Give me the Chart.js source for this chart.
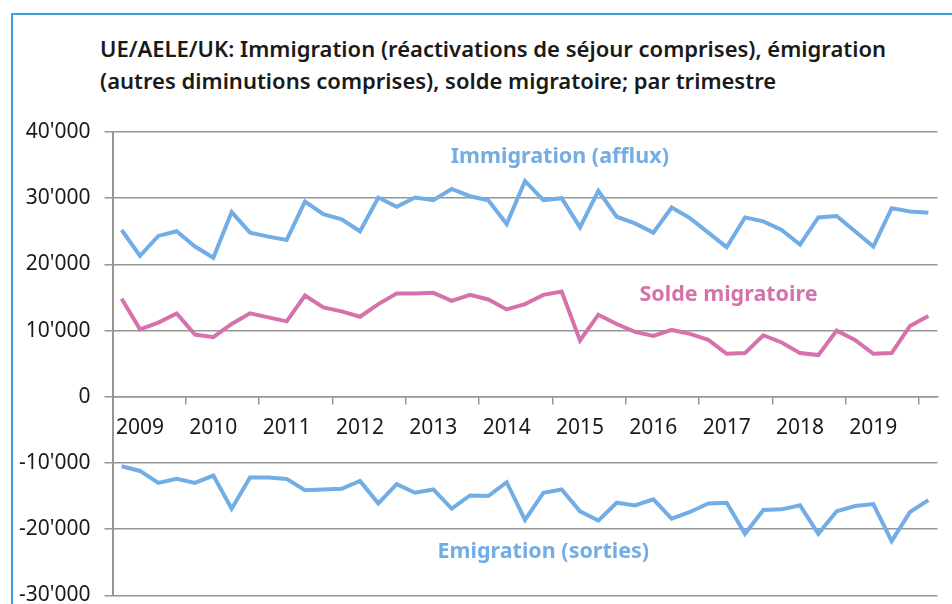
<!DOCTYPE html>
<html lang="fr">
<head>
<meta charset="utf-8">
<title>UE/AELE/UK : migration par trimestre</title>
<script src="https://cdn.jsdelivr.net/npm/chart.js@4.4.1/dist/chart.umd.min.js"></script>
<style>
  html, body { margin: 0; padding: 0; background: #fff; }
  body { width: 952px; height: 604px; position: relative; overflow: hidden; font-family: 'Noto Sans', sans-serif; }
  /* cadre bleu, coupé à droite et en bas comme sur l'original */
  .frame { position: absolute; left: 11px; top: 13px; width: 980px; height: 640px;
           border-left: 2px solid #3f9de2; border-top: 2px solid #3f9de2; }
  .chart-title { position: absolute; left: 100px; top: 32px; margin: 0;
                 font-size: 22px; font-weight: 600; line-height: 32px; color: #1a1a1a; white-space: nowrap; }
  .chart-wrap { position: absolute; left: 0; top: 0; width: 952px; height: 604px; }
</style>
</head>
<body>
<div class="frame"></div>
<h1 class="chart-title">UE/AELE/UK: Immigration (réactivations de séjour comprises), émigration<br>(autres diminutions comprises), solde migratoire; par trimestre</h1>
<div class="chart-wrap"><canvas id="migrationChart"></canvas></div>

<script>
// Trimestres 2009 T1 – 2020 T1
const years = ['2009', '2010', '2011', '2012', '2013', '2014', '2015', '2016', '2017', '2018', '2019', '2020'];
const quarters = [];
years.forEach(y => ['T1', 'T2', 'T3', 'T4'].forEach(q => quarters.push(y + ' ' + q)));
quarters.length = 45;

// libellés d'années affichés sous l'axe
const yearLabels = ['2009', '2010', '2011', '2012', '2013', '2014', '2015', '2016', '2017', '2018', '2019'];

// Immigration (afflux)
const immigration = [
  25200, 21300, 24300, 25000, 22700, 21000, 27900, 24800, 24200, 23700, 29500, 27600,
  26800, 25000, 30100, 28700, 30100, 29700, 31400, 30300, 29700, 26100, 32600, 29700,
  30000, 25600, 31100, 27200, 26200, 24800, 28600, 27000, 24800, 22600, 27100, 26500,
  25200, 23000, 27100, 27300, 25000, 22700, 28500, 28000, 27800
];

// Solde migratoire
const solde = [
  14800, 10200, 11200, 12600, 9400, 9000, 11000, 12600, 12000, 11400, 15300, 13500,
  12900, 12100, 14000, 15600, 15600, 15700, 14500, 15400, 14700, 13200, 14000, 15400,
  15900, 8500, 12400, 11000, 9800, 9200, 10100, 9500, 8600, 6500, 6600, 9300,
  8200, 6600, 6300, 10000, 8600, 6500, 6600, 10700, 12200
];

// Emigration (sorties)
const emigration = [
  -10500, -11200, -13000, -12400, -13000, -11900, -16900, -12200, -12200, -12400, -14100, -14000,
  -13900, -12700, -16100, -13200, -14500, -14000, -16900, -14900, -15000, -12900, -18600, -14500,
  -14000, -17300, -18700, -16000, -16400, -15500, -18400, -17400, -16100, -16000, -20700, -17100,
  -17000, -16400, -20700, -17300, -16500, -16200, -21800, -17400, -15600
];

const yTicks = [-30000, -20000, -10000, 0, 10000, 20000, 30000, 40000];

const BLUE = '#72ade6';
const PINK = '#d672ab';
const GRID = '#959595';
const TEXT = '#1a1a1a';
const FONT = "'Noto Sans', sans-serif";

// étiquettes des séries, placées en coordonnées de données (index trimestre, valeur)
const seriesLabels = [
  { text: 'Immigration (afflux)', color: BLUE, at: 23.9, value: 36300 },
  { text: 'Solde migratoire', color: PINK, at: 33.1, value: 15400 },
  { text: 'Emigration (sorties)', color: BLUE, at: 23.0, value: -23450 }
];

function fmtThousands(v) {
  const s = String(Math.abs(v)).replace(/\B(?=(\d{3})+(?!\d))/g, "'");
  return (v < 0 ? '-' : '') + s;
}

const seriesLabelPlugin = {
  id: 'seriesLabels',
  afterDatasetsDraw(chart) {
    const { ctx, scales } = chart;
    ctx.save();
    ctx.font = 'bold 21.5px ' + FONT;
    ctx.textAlign = 'center';
    ctx.textBaseline = 'middle';
    seriesLabels.forEach(l => {
      ctx.fillStyle = l.color;
      ctx.fillText(l.text, scales.x.getPixelForValue(l.at), scales.y.getPixelForValue(l.value));
    });
    ctx.restore();
  }
};

const line = (label, data, color) => ({
  label, data,
  borderColor: color,
  backgroundColor: color,
  borderWidth: 4,
  pointRadius: 0,
  tension: 0,
  fill: false
});

new Chart(document.getElementById('migrationChart'), {
  type: 'line',
  data: {
    labels: quarters,
    datasets: [
      line('Immigration (afflux)', immigration, BLUE),
      line('Solde migratoire', solde, PINK),
      line('Emigration (sorties)', emigration, BLUE)
    ]
  },
  options: {
    responsive: true,
    maintainAspectRatio: false,
    animation: false,
    layout: { padding: { top: 132, right: 14.5, bottom: 8.6, left: 0 } },
    plugins: {
      legend: { display: false },
      tooltip: { enabled: false }
    },
    scales: {
      x: {
        type: 'category',
        position: { y: 0 },
        offset: true,
        grid: {
          offset: true,
          drawOnChartArea: false,
          drawTicks: true,
          tickLength: 7,
          lineWidth: 1.5,
          color: ctx => (ctx.index % 4 === 0 ? GRID : 'transparent')
        },
        border: { display: true, color: GRID, width: 1.5 },
        ticks: {
          autoSkip: false,
          maxRotation: 0,
          minRotation: 0,
          padding: 12,
          color: TEXT,
          font: { family: FONT, size: 21 },
          callback: (v, i) => (i % 4 === 1 ? yearLabels[(i - 1) / 4] : '')
        },
        afterFit: s => { s.paddingLeft = 0; s.paddingRight = 0; }
      },
      y: {
        min: -30000,
        max: 40000,
        afterBuildTicks: s => { s.ticks = yTicks.map(v => ({ value: v })); },
        grid: { color: GRID, lineWidth: 1.5, tickLength: 8 },
        border: { color: GRID, width: 2 },
        ticks: {
          padding: 14,
          color: TEXT,
          font: { family: FONT, size: 21 },
          callback: v => fmtThousands(v)
        },
        afterFit: s => { s.width = 112.5; s.paddingTop = 0; s.paddingBottom = 0; }
      }
    }
  },
  plugins: [seriesLabelPlugin]
});
</script>
</body>
</html>
